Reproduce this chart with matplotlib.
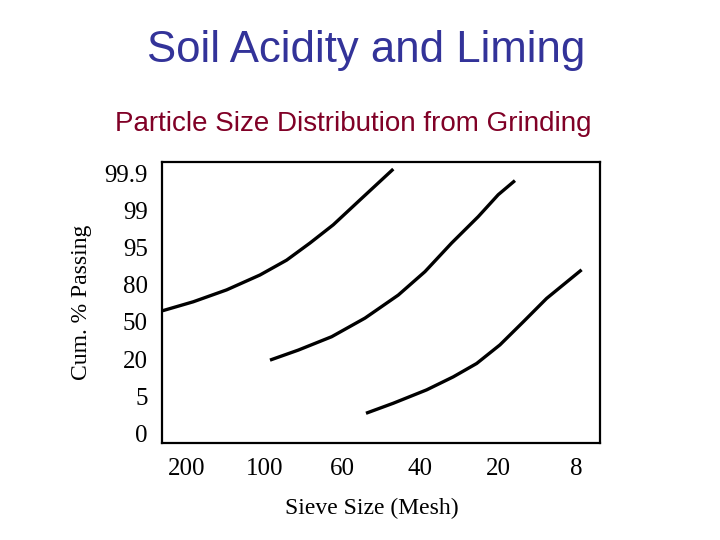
import matplotlib
matplotlib.use("Agg")
import matplotlib.pyplot as plt

# Tick labels (categorical, evenly spaced)
x_labels = ["200", "100", "60", "40", "20", "8"]
y_labels = ["0", "5", "20", "50", "80", "95", "99", "99.9"]

# Curves, in tick-index units (x: sieve index, y: probability-scale index)
curve1_x = [-0.312, 0.081, 0.510, 0.938, 1.281, 1.581, 1.880, 2.224, 2.652]
curve1_y = [3.30, 3.54, 3.86, 4.26, 4.66, 5.12, 5.61, 6.28, 7.11]

curve2_x = [1.067, 1.431, 1.860, 2.288, 2.716, 3.059, 3.402, 3.744, 4.001, 4.216]
curve2_y = [1.97, 2.24, 2.60, 3.10, 3.72, 4.35, 5.12, 5.83, 6.42, 6.80]

curve3_x = [2.301, 2.652, 3.081, 3.423, 3.724, 4.023, 4.323, 4.623, 5.073]
curve3_y = [0.54, 0.81, 1.17, 1.52, 1.88, 2.38, 3.00, 3.63, 4.40]

fig = plt.figure(figsize=(7.2, 5.4), dpi=100)
ax = fig.add_axes([0.2246, 0.1796, 0.6088, 0.5204])

for xs, ys in [(curve1_x, curve1_y), (curve2_x, curve2_y), (curve3_x, curve3_y)]:
    ax.plot(xs, ys, color="black", lw=2.4, solid_capstyle="butt", solid_joinstyle="round")

ax.set_xlim(-0.325, 5.31)
ax.set_ylim(-0.26, 7.30)
ax.set_xticks(range(len(x_labels)))
ax.set_xticklabels(x_labels)
ax.set_yticks(range(len(y_labels)))
ax.set_yticklabels(y_labels)

serif = "Liberation Serif"
for lab in ax.get_xticklabels() + ax.get_yticklabels():
    lab.set_fontfamily(serif)
    lab.set_fontsize(18)
ax.tick_params(axis="both", length=0)
ax.tick_params(axis="y", pad=10)
ax.tick_params(axis="x", pad=11)
for s in ax.spines.values():
    s.set_linewidth(1.6)

ax.set_xlabel("Sieve Size (Mesh)", fontfamily=serif, fontsize=17)
ax.xaxis.set_label_coords(0.48, -0.195)
ax.set_ylabel("Cum. % Passing", fontfamily=serif, fontsize=17)
ax.yaxis.set_label_coords(-0.16, 0.5)

fig.text(0.509, 1 - 62 / 540, "Soil Acidity and Liming", ha="center", va="baseline",
         fontfamily="Liberation Sans", fontsize=31.5, color="#333399")
fig.text(0.491, 1 - 131 / 540, "Particle Size Distribution from Grinding", ha="center",
         va="baseline", fontfamily="Liberation Sans", fontsize=20, color="#800026")

fig.savefig("out.png", dpi=100)
